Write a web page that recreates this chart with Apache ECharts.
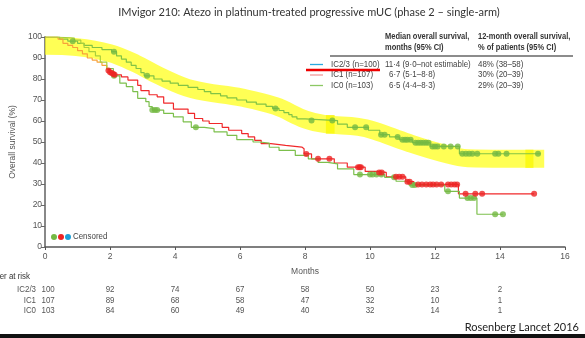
<!DOCTYPE html>
<html>
<head>
<meta charset="utf-8">
<script src="https://cdn.jsdelivr.net/npm/echarts@6/dist/echarts.min.js"></script>
<style>
html,body{margin:0;padding:0;background:#fff;}
#chart{width:585px;height:338px;}
</style>
</head>
<body>
<div id="chart"></div>
<script>
// Kaplan-Meier steps (months, % surviving)
var ic23Time = [0,0.45,0.7,1.0,1.2,1.45,1.75,2.05,2.2,2.35,2.5,2.65,2.8,2.95,3.05,3.35,3.6,3.85,4.1,4.4,4.7,4.9,5.1,5.4,5.6,5.9,6.2,6.5,6.8,7.0,7.2,7.35,7.5,7.6,7.75,8.0,9.0,9.3,9.95,10.3,10.6,10.9,11.3,11.85,12.75,15.25];
var ic23Surv = [100,99,98,97,96,95,94,93,91,89.5,88,86.5,85,83,81.5,80,79,78,77,76,75,74,73,72,71,70,69,68,67,66,65,64,63,62,61,60.2,58.5,57,55.6,53.5,52.4,51.1,49.7,47.9,44.4,44.4];
var ic23CensT = [0.85,2.12,3.14,7.09,8.2,8.84,9.54,9.88,10.34,10.45,10.85,11.0,11.08,11.15,11.25,11.4,11.48,11.56,11.64,11.72,11.8,11.92,12.0,12.08,12.27,12.48,12.7,12.84,12.95,13.05,13.15,13.3,13.85,13.95,14.2,15.17];
var ic23CensS = [98,93,81.5,66,60.2,60.2,57,57,53.5,53.5,52.4,51.1,51.1,51.1,51.1,49.7,49.7,49.7,49.7,49.7,49.7,47.9,47.9,47.9,47.9,47.9,47.9,44.4,44.4,44.4,44.4,44.4,44.4,44.4,44.4,44.4];

var ic1Time = [0,0.4,0.55,0.7,0.85,1.0,1.15,1.3,1.45,1.6,1.75,1.9,2.0,2.15,2.35,2.55,2.85,2.95,3.2,3.45,3.65,3.95,4.4,4.6,4.85,5.05,5.45,5.65,6.05,6.25,6.45,6.65,6.95,7.4,7.9,7.97,8.2,8.9,9.3,9.85,10.2,10.5,11.1,11.35,12.72,15.05];
var ic1Surv = [100,99,97,96,95,93.5,92,90,89,88,86.5,84.5,83,82,81,79.5,77,74.5,72.5,71.5,68.5,65.7,63.6,61.2,60,58.8,57,55.6,54,52.4,50.8,49.2,48.4,47.6,46.8,44.3,42,40,38,36,35.5,33.4,31.1,29.8,25.3,25.3];
var ic1CensT = [1.95,2.0,2.05,2.1,2.14,8.04,8.4,8.75,9.63,9.68,9.72,10.28,10.36,10.8,10.9,11.0,11.15,11.22,11.48,11.6,11.73,11.85,11.94,12.05,12.19,12.4,12.5,12.6,12.68,12.94,13.24,13.45,15.05];
var ic1CensS = [84,83.2,82.8,82.4,82,44.3,42,42,38,38,38,35.5,35.5,33.4,33.4,33.4,31.1,31.1,29.8,29.8,29.8,29.8,29.8,29.8,29.8,29.8,29.8,29.8,29.8,25.3,25.3,25.3,25.3];

var ic0Time = [0,0.35,0.9,1.1,1.2,1.35,1.55,1.7,1.9,2.1,2.3,2.5,2.7,2.85,3.1,3.2,3.3,3.65,3.95,4.25,4.5,4.9,5.2,5.6,5.9,6.4,6.6,6.9,7.2,7.7,8.1,8.4,8.7,9.0,9.5,10.45,10.8,11.2,12.3,12.75,13.29,14.09];
var ic0Surv = [100,99.5,98.5,97,95,93,91,88,85,81.5,78,76.4,74,70.8,69.2,66.8,65.2,63.6,62,59.6,57,56.4,54.8,53.2,51.1,50,49.5,47.5,46,43.6,42,40.3,39.6,37.2,34.5,33.2,31.3,29.5,26.5,23.3,15.6,15.6];
var ic0CensT = [2.12,3.3,3.38,3.45,4.64,9.69,10.0,10.08,10.2,10.35,10.74,11.3,11.38,12.4,13.0,13.1,13.2,13.85,14.09];
var ic0CensS = [81.5,65.2,65.2,65.2,57,34.5,34.5,34.5,34.5,34.5,33.2,29.5,29.5,26.5,23.3,23.3,23.3,15.6,15.6];

// hand highlighter stroke laid over the IC2/3 curve
var bandTime = [0,0.97,1.99,2.81,3.52,4.54,6.07,7.09,8.01,8.62,9.64,10.15,11.17,12.19,13.01,15.36];
var bandSurv = [95.8,95.2,92.3,87.2,81.5,75.1,71.1,67.1,60.7,58.5,57.2,55.3,49.7,44.9,42.3,42];

// number at risk
var riskMonths = [0,2,4,6,8,10,12,14];
var riskGroups = ['IC2/3','IC1','IC0'];
var riskIC23 = [100,92,74,67,58,50,23,2];
var riskIC1 = [107,89,68,58,47,32,10,1];
var riskIC0 = [103,84,60,49,40,32,14,1];

// legend table
var legendNames = ['IC2/3 (n=100)','IC1 (n=107)','IC0 (n=103)'];
var legendMedian = ['11\u00b74 (9\u00b70\u2013not estimable)','6\u00b77 (5\u00b71\u20138\u00b78)','6\u00b75 (4\u00b74\u20138\u00b73)'];
var legend12m = ['48% (38\u201358)','30% (20\u201339)','29% (20\u201339)'];
var legendColors = ['#2aa9df','#f29a9a','#8cc864'];

function pairs(t, s) {
    var out = [];
    for (var i = 0; i < t.length; i++) out.push([t[i], s[i]]);
    return out;
}

var sans = '"Liberation Sans", Arial, sans-serif';
var chart = echarts.init(document.getElementById('chart'));

var option = {
    animation: false,
    title: {
        text: 'IMvigor 210: Atezo in platinum-treated progressive mUC (phase 2 \u2013 single-arm)',
        left: 304,
        top: 2,
        textAlign: 'center',
        textStyle: { fontFamily: 'Lato', fontSize: 11, fontWeight: 'normal', color: '#333' }
    },
    grid: { left: 42, right: 20, top: 37, bottom: 91 },
    xAxis: {
        type: 'value',
        min: 0, max: 16, interval: 2,
        name: 'Months',
        nameLocation: 'middle',
        nameGap: 20,
        nameTextStyle: { fontFamily: sans, fontSize: 8.5, color: '#555' },
        axisLine: { lineStyle: { color: '#555', width: 1.5 } },
        axisTick: { length: 3, lineStyle: { color: '#555' } },
        axisLabel: { fontFamily: sans, fontSize: 8.5, color: '#555', margin: 5 },
        splitLine: { show: false }
    },
    yAxis: {
        type: 'value',
        min: 0, max: 100, interval: 10,
        name: 'Overall survival (%)',
        nameLocation: 'middle',
        nameGap: 21,
        nameTextStyle: { fontFamily: sans, fontSize: 8.5, color: '#555' },
        axisLine: { show: true, lineStyle: { color: '#888', width: 2 } },
        axisTick: { show: true, length: 4, lineStyle: { color: '#666' } },
        axisLabel: { fontFamily: sans, fontSize: 8.5, color: '#555', margin: 3 },
        splitLine: { show: false }
    },
    series: [
        {
            name: 'band',
            type: 'line',
            data: pairs(bandTime, bandSurv),
            smooth: 0.4,
            showSymbol: false,
            silent: true,
            z: 1,
            lineStyle: { color: 'rgba(255,255,20,0.72)', width: 18, cap: 'butt' },
            markArea: {
                silent: true,
                itemStyle: { color: 'rgba(242,236,0,0.85)' },
                data: [
                    [{ xAxis: 8.64, yAxis: 62.8 }, { xAxis: 8.91, yAxis: 54 }],
                    [{ xAxis: 14.78, yAxis: 46.3 }, { xAxis: 15.03, yAxis: 37.7 }]
                ]
            }
        },
        {
            name: 'IC2/3', type: 'line', step: 'end', showSymbol: false, z: 3,
            data: pairs(ic23Time, ic23Surv),
            lineStyle: { color: '#82c346', width: 1.2 }
        },
        {
            name: 'IC1', type: 'line', step: 'end', showSymbol: false, z: 3,
            data: pairs(ic1Time, ic1Surv),
            lineStyle: { color: '#f0282a', width: 1.2 }
        },
        {
            name: 'IC0', type: 'line', step: 'end', showSymbol: false, z: 3,
            data: pairs(ic0Time, ic0Surv),
            lineStyle: { color: '#7cbf4c', width: 1.2 }
        },
        {
            type: 'scatter', symbolSize: 6, z: 4,
            data: pairs(ic23CensT, ic23CensS),
            itemStyle: { color: '#74b944' }
        },
        {
            type: 'scatter', symbolSize: 6, z: 4,
            data: pairs(ic0CensT, ic0CensS),
            itemStyle: { color: '#74b944' }
        },
        {
            type: 'scatter', symbolSize: 6, z: 5,
            data: pairs(ic1CensT, ic1CensS),
            itemStyle: { color: '#ee2424' }
        }
    ]
};
chart.setOption(option);

// inside the highlighter the red/green curves look orange / yellow-green
function splitGradient(month, c1, c2) {
    var s = chart.convertToPixel({ xAxisIndex: 0 }, month) / 585;
    return {
        type: 'linear', x: 0, y: 0, x2: 585, y2: 0, global: true,
        colorStops: [
            { offset: 0, color: c1 }, { offset: s, color: c1 },
            { offset: s, color: c2 }, { offset: 1, color: c2 }
        ]
    };
}

// extra text blocks: legend table, censored key, number at risk, source
var g = [];
var txt = function (x, y, s, opt) {
    opt = opt || {};
    g.push({
        type: 'text', x: x, y: y, silent: true,
        scaleX: opt.sx || 0.88,
        style: {
            text: s,
            fontFamily: opt.font || sans,
            fontSize: opt.size || 9,
            fontWeight: opt.weight || 'normal',
            fill: opt.color || '#444',
            align: opt.align || 'left',
            verticalAlign: 'middle'
        }
    });
};

// legend table header
txt(385, 37, 'Median overall survival,', { weight: 'bold', color: '#333', size: 8.5 });
txt(385, 48, 'months (95% CI)', { weight: 'bold', color: '#333', size: 8.5 });
txt(478, 37, '12-month overall survival,', { weight: 'bold', color: '#333', size: 8.5 });
txt(478, 48, '% of patients (95% CI)', { weight: 'bold', color: '#333', size: 8.5 });
g.push({ type: 'line', silent: true, shape: { x1: 330, y1: 56, x2: 573, y2: 56 }, style: { stroke: '#666', lineWidth: 1.3 } });
var rowY = [64.5, 75, 85.5];
for (var i = 0; i < legendNames.length; i++) {
    g.push({ type: 'line', silent: true, shape: { x1: 310, y1: rowY[i], x2: 323, y2: rowY[i] }, style: { stroke: legendColors[i], lineWidth: 1.3 } });
    txt(331, rowY[i], legendNames[i]);
    txt(i === 0 ? 385 : 389, rowY[i], legendMedian[i]);
    txt(478, rowY[i], legend12m[i]);
}
g.push({ type: 'line', silent: true, shape: { x1: 306, y1: 70, x2: 380, y2: 70 }, style: { stroke: '#ee0000', lineWidth: 2.5 } });

// censored key
var keyColors = ['#74b944', '#ee2424', '#1ea0d8'];
for (var k = 0; k < keyColors.length; k++) {
    g.push({ type: 'circle', silent: true, shape: { cx: 54 + k * 7, cy: 237, r: 3 }, style: { fill: keyColors[k] } });
}
txt(73, 237, 'Censored');

// number at risk table
var riskRows = [riskIC23, riskIC1, riskIC0];
var riskY = [290, 301, 311];
txt(30, 277, 'Number at risk', { align: 'right', color: '#333' });
for (var r = 0; r < riskRows.length; r++) {
    txt(36, riskY[r], riskGroups[r], { align: 'right', color: '#555' });
    for (var c = 0; c < riskMonths.length; c++) {
        var px = chart.convertToPixel({ xAxisIndex: 0 }, riskMonths[c]);
        if (c === 0) px += 3;
        txt(px, riskY[r], String(riskRows[r][c]), { align: 'center', color: '#555' });
    }
}

// source + bottom rule
txt(579, 327, 'Rosenberg Lancet 2016', { font: 'Lato', size: 11, color: '#222', align: 'right', sx: 1 });
g.push({ type: 'rect', silent: true, shape: { x: 0, y: 334, width: 585, height: 4 }, style: { fill: '#111' } });

chart.setOption({
    series: [
        {},
        {},
        { lineStyle: { color: splitGradient(1.95, '#f7a23a', '#f0282a') } },
        { lineStyle: { color: splitGradient(1.95, '#a9cf3c', '#7cbf4c') } }
    ],
    graphic: g
});
</script>
</body>
</html>
